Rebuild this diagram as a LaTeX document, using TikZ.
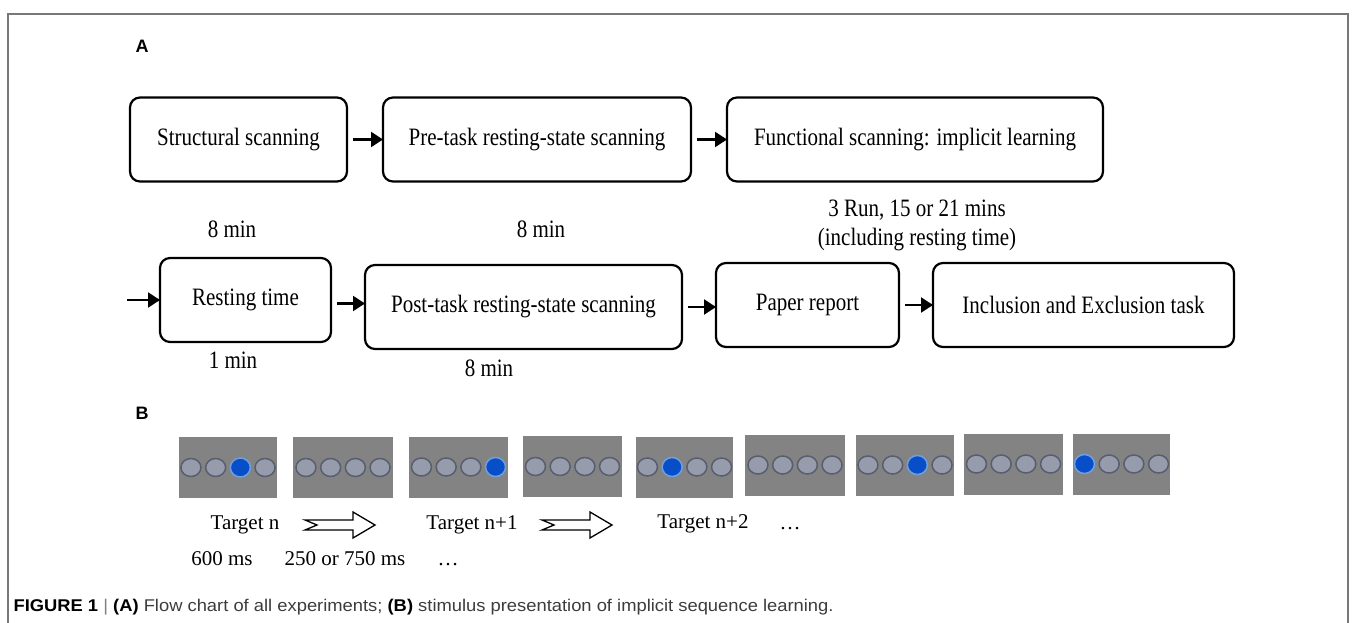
\documentclass[tikz,border=0pt]{standalone}
\usepackage{fontspec}
\setmainfont{Liberation Serif}
\newfontfamily\condfont{Liberation Serif}[FakeStretch=0.84]
\newfontfamily\capfont{Liberation Sans}[FakeStretch=1.08]
\newfontfamily\labfont{Liberation Sans}
\usepackage{tikz}
\usetikzlibrary{arrows.meta,positioning,shapes.geometric}

\definecolor{screengray}{RGB}{131,131,131}
\definecolor{ringgray}{RGB}{88,94,110}
\definecolor{dotgray}{RGB}{150,156,172}
\definecolor{dotblue}{RGB}{8,78,200}
\definecolor{haloblue}{RGB}{110,160,225}
\definecolor{framegray}{RGB}{120,120,120}
\definecolor{captext}{RGB}{60,60,60}

\tikzset{
  hollowarrow/.pic={
    \draw[line width=1.3pt,fill=white] (0,-5) -- (48,-5) -- (48,-13) -- (70,0)
      -- (48,13) -- (48,5) -- (0,5) -- (12,0) -- cycle;
  }
}

\begin{document}
\begin{tikzpicture}[x=1pt,y=-1pt,node distance=36pt,
    every node/.style={font=\fontsize{21}{25}\selectfont},
    chart/.style={font=\condfont\fontsize{25}{29}\selectfont},
    stage/.style={chart,draw,line width=2.2pt,rounded corners=10pt,minimum height=84pt,inner sep=0pt,outer sep=0pt},
    flow/.style={-{Triangle[length=12pt,width=15pt]},line width=2.2pt,shorten <=6pt},
    display/.style={fill=screengray,minimum height=61pt,inner sep=0pt},
    dotoff/.style={ellipse,draw=ringgray,fill=dotgray,line width=1.5pt,minimum width=20pt,minimum height=18pt,inner sep=0pt},
    doton/.style={ellipse,draw=haloblue,fill=dotblue,line width=1.5pt,minimum width=20pt,minimum height=19pt,inner sep=0pt},
    panel/.style={font=\labfont\fontsize{18}{21}\selectfont\bfseries}]
  \useasboundingbox (0,0) rectangle (1357,623);
  \draw[framegray,line width=1.5pt] (8,623) -- (8,14) -- (1348,14) -- (1348,623);

  % (A) flow chart
  \node[panel] (lab_A) at (142,46) {A};
  \node[stage,minimum width=217pt] (s_struct) at (238.5,139.5) {Structural scanning};
  \node[stage,minimum width=308pt] (s_pre)  [right=of s_struct] {Pre-task resting-state scanning};
  \node[stage,minimum width=376pt] (s_func) [right=of s_pre]    {Functional scanning: implicit learning};

  \node[stage,minimum width=171pt] (s_rest)  at (245.5,300) {Resting time};
  \node[stage,minimum width=317pt] (s_post)  [right=34pt of s_rest,yshift=-7pt] {Post-task resting-state scanning};
  \node[stage,minimum width=183pt] (s_paper) [right=34pt of s_post,yshift=2pt]  {Paper report};
  \node[stage,minimum width=301pt] (s_incl)  [right=34pt of s_paper] {Inclusion and Exclusion task};
  \coordinate (in_rest) at (127,300);

  \path[flow]
    (s_struct) edge (s_pre)
    (s_pre)    edge (s_func)
    (s_paper)  edge (s_incl);
  \draw[flow,shorten <=0pt] (in_rest) -- (s_rest);
  \draw[flow] ([yshift=-3.5pt]s_rest.east) -- ([yshift=3.5pt]s_post.west);
  \draw[flow] (s_post.east) -- (s_post.east -| s_paper.west);

  \node[chart] (t_struct) at (232,229) {8 min};
  \node[chart] (t_pre)    at (541,229) {8 min};
  \node[chart,align=center] (t_func) at (917,225) {3 Run, 15 or 21 mins\\(including resting time)};
  \node[chart] (t_rest)   at (233,360) {1 min};
  \node[chart] (t_post)   at (489,368) {8 min};

  % (B) stimulus screens
  \node[panel] (lab_B) at (142,413) {B};
  \foreach \n/\cx/\cy/\w/\on in {1/228/467.5/98/3, 2/343/467.5/100/0, 3/458.5/467/99/4,
      4/572.5/466.5/99/0, 5/684.5/467/97/2, 6/795/465/100/0, 7/905/465/98/3,
      8/1013.5/464/99/0, 9/1121.5/464/97/1}{
    \node[display,minimum width=\w pt] (sq\n) at (\cx,\cy) {};
    \foreach \k in {1,...,4}{
      \ifnum\k=\on
        \node[doton] (d\n\k) at ({\cx+(\k-2.5)*24.7},\cy) {};
      \else
        \node[dotoff] (d\n\k) at ({\cx+(\k-2.5)*24.7},\cy) {};
      \fi
    }
  }

  \node[anchor=base] (t_n)    at (245,529) {Target n};
  \node[anchor=base] (t_n1)   at (472,529) {Target n+1};
  \node[anchor=base] (t_n2)   at (703,528) {Target n+2};
  \node[anchor=base] (t_more) at (790,529) {…};
  \pic at (305,525) {hollowarrow};
  \pic at (542,525) {hollowarrow};

  \node[anchor=base] (t_on)    at (222,565) {600 ms};
  \node[anchor=base] (t_off)   at (345,565) {250 or 750 ms};
  \node[anchor=base] (t_etc)   at (448,565) {…};

  \node[anchor=west,text=captext,font=\capfont\fontsize{17}{20}\selectfont] (caption) at (10,607)
    {\textcolor{black}{\bfseries FIGURE 1} \textcolor{gray}{|} \textcolor{black}{\bfseries (A)} Flow chart of all experiments; \textcolor{black}{\bfseries (B)} stimulus presentation of implicit sequence learning.};
\end{tikzpicture}
\end{document}
